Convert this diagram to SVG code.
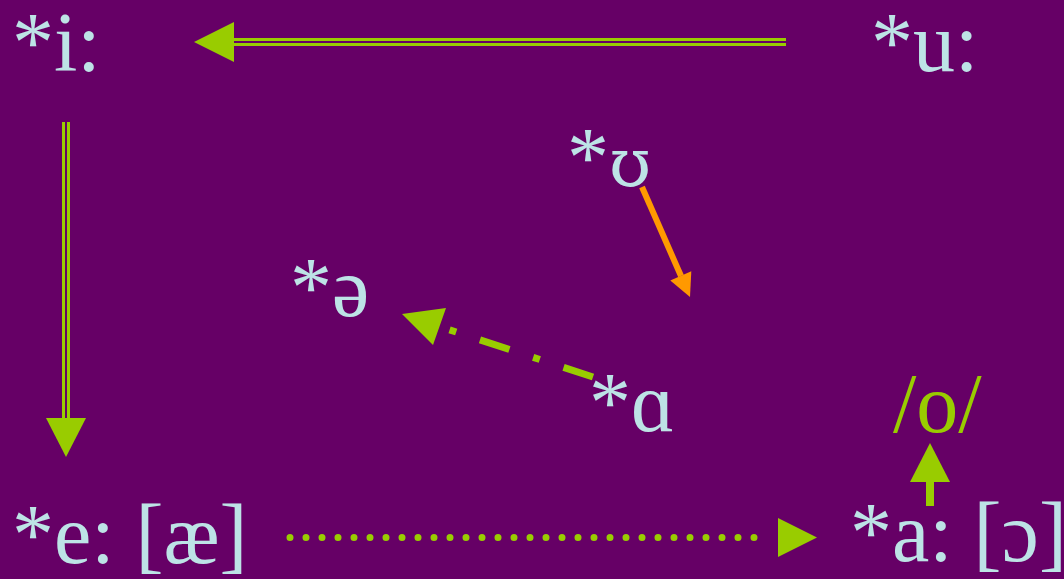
<svg xmlns="http://www.w3.org/2000/svg" width="1064" height="579" viewBox="0 0 1064 579">
<style>
.t{font-family:"Liberation Serif","Times New Roman",serif;font-size:84px;fill:#bde3e6}
.g{fill:#99cc00}
.gs{stroke:#99cc00;fill:none}
.dv{font-family:"DejaVu Serif",serif;font-size:68px}
</style>
<rect width="1064" height="579" fill="#660066"/>
<g id="connectors">
<g id="c-u-i">
<line class="gs" x1="234" y1="39.5" x2="786" y2="39.5" stroke-width="3"/>
<line class="gs" x1="234" y1="44.5" x2="786" y2="44.5" stroke-width="3"/>
<polygon class="g" points="194,42 234,22 234,62"/>
</g>
<g id="c-i-e">
<line class="gs" x1="63.5" y1="122" x2="63.5" y2="419" stroke-width="3"/>
<line class="gs" x1="68.5" y1="122" x2="68.5" y2="419" stroke-width="3"/>
<polygon class="g" points="46,418 86,418 66,457"/>
</g>
<g id="c-U">
<line x1="642" y1="187" x2="681" y2="276" stroke="#ff9900" stroke-width="6"/>
<polygon fill="#ff9900" points="690,297 670.3,280.5 691.3,271.3"/>
</g>
<g id="c-a-schwa">
<line class="gs" x1="593" y1="377" x2="439.5" y2="326.5" stroke-width="7" stroke-dasharray="31 25 7 25"/>
<polygon class="g" points="402,314 446,308 433,345"/>
</g>
<g id="c-e-a">
<line class="gs" x1="290" y1="537.5" x2="770" y2="537.5" stroke-width="7" stroke-linecap="round" stroke-dasharray="0 16"/>
<polygon class="g" points="778,518 778,557 817,537.5"/>
</g>
<g id="c-a-o">
<rect class="g" x="926" y="481" width="8" height="25"/>
<polygon class="g" points="910,482 950,482 930,443"/>
</g>
</g>
<g id="n-i"><text class="t" x="12" y="71">*i:</text></g>
<g id="n-u"><text class="t" x="871" y="71">*u:</text></g>
<g id="n-U"><text class="t" x="567" y="186">*<tspan class="dv">ʊ</tspan></text></g>
<g id="n-schwa"><text class="t" x="290" y="316">*ə</text></g>
<g id="n-alpha"><text class="t" x="589" y="431">*ɑ</text></g>
<g id="n-o"><text class="t" x="893" y="432" style="fill:#99cc00">/o/</text></g>
<g id="n-e"><text class="t" x="12" y="563">*e: [æ]</text></g>
<g id="n-a"><text class="t" x="850" y="561">*a: [ɔ]</text></g>
</svg>
